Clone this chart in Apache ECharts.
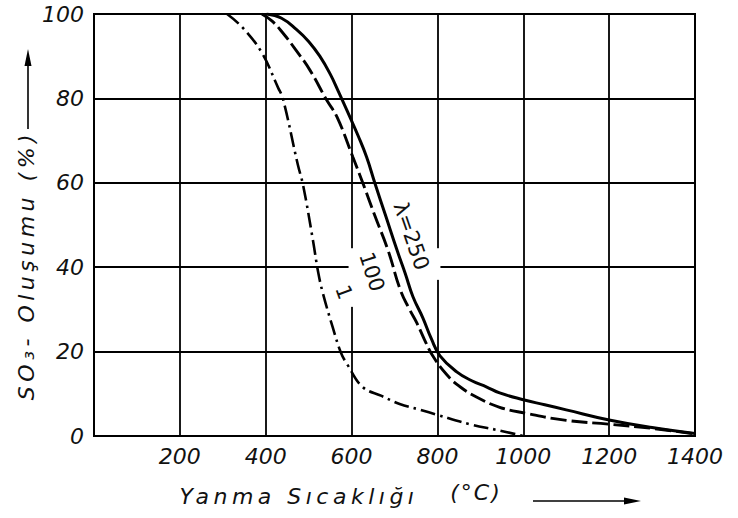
<!DOCTYPE html>
<html>
<head>
<meta charset="utf-8">
<script src="https://cdn.jsdelivr.net/npm/echarts@6/dist/echarts.min.js"></script>
<style>
html,body{margin:0;padding:0;background:#fff}
#c{width:738px;height:518px}
</style>
</head>
<body>
<div id="c"></div>
<script>
// ---- data ----
const xTicks = [0, 200, 400, 600, 800, 1000, 1200, 1400];
const yTicks = [0, 20, 40, 60, 80, 100];

// lambda = 1 (dash-dot)
const lambda1 = [[310,100],[347,96.7],[391,90.8],[429,82.5],[440,80],[475,64.2],[487,59.5],[510,46.4],[522,38.9],[533,33.9],[556,25.8],[575,19.8],[591,16.8],[626,11.6],[670,9.5],[712,7.6],[760,6.2],[800,5],[875,2.8],[940,1.4],[1000,0]];
// lambda = 100 (dashed)
const lambda100 = [[391,100],[415,98.3],[440,95.5],[470,91.5],[503,86.7],[542,79.6],[566,75.6],[603,66.1],[626,60],[655,52],[685,44],[714,34.5],[735,30],[752,26.8],[770,22.8],[789,19],[822,14.5],[855,11.5],[892,9.2],[945,6.8],[1005,5.4],[1100,3.7],[1200,2.8],[1300,1.8],[1400,0.5]];
// lambda = 250 (solid)
const lambda250 = [[402,100],[437,99],[472,96.3],[500,93.5],[526,90],[550,85.8],[570,81.5],[596,75.6],[615,71.2],[635,66.1],[654,60],[680,52],[706,44],[725,38.5],[743,33],[766,28],[786,23],[806,19],[845,15.2],[880,13.1],[915,11.6],[945,10.2],[1000,8.6],[1050,7.4],[1100,6.2],[1200,3.8],[1300,2.0],[1400,0.6]];

const curveLabels = ['1', '100', 'λ=250'];
const curveLabelAnchors = [[582, 34.1], [647, 38.9], [740, 47.4]];
const yTitle = 'SO₃- Oluşumu (%)';
const xTitle = 'Yanma Sıcaklığı';
const xUnit = '(°C)';

// ---- chart ----
const FONT = 'DejaVu Sans';
const INK = '#111';
const chart = echarts.init(document.getElementById('c'), null, {renderer: 'svg'});

const option = {
  animation: false,
  grid: {left: 94, right: 43, top: 14, bottom: 82, show: true, borderColor: '#000', borderWidth: 2, backgroundColor: 'transparent'},
  xAxis: {
    type: 'value', min: xTicks[0], max: xTicks[xTicks.length - 1], interval: 200,
    axisLine: {show: false}, axisTick: {show: false},
    splitLine: {show: true, lineStyle: {color: '#000', width: 1.8}},
    axisLabel: {fontFamily: FONT, fontStyle: 'italic', fontSize: 22, color: INK, margin: 9,
      formatter: v => (v === 0 ? '' : String(v))}
  },
  yAxis: {
    type: 'value', min: yTicks[0], max: yTicks[yTicks.length - 1], interval: 20,
    axisLine: {show: false}, axisTick: {show: false},
    splitLine: {show: true, lineStyle: {color: '#000', width: 1.8}},
    axisLabel: {fontFamily: FONT, fontStyle: 'italic', fontSize: 22, color: INK, margin: 10}
  },
  series: [
    {name: curveLabels[0], type: 'line', data: lambda1, smooth: 0.4, symbol: 'none', z: 3,
      lineStyle: {color: '#000', width: 2.6, type: [15, 5, 2.5, 5]}},
    {name: curveLabels[1], type: 'line', data: lambda100, smooth: 0.45, symbol: 'none', z: 3,
      lineStyle: {color: '#000', width: 2.9, type: [16, 5]}},
    {name: curveLabels[2], type: 'line', data: lambda250, smooth: 0.45, symbol: 'none', z: 3,
      lineStyle: {color: '#000', width: 3}}
  ]
};
chart.setOption(option);

// ---- annotations ----
const P = (x, y) => chart.convertToPixel({gridIndex: 0}, [x, y]);
const g = [];

// knock-outs of the grid behind the curve labels
function knockV(xv, y0, y1) {
  const a = P(xv, y1), b = P(xv, y0);
  g.push({type: 'rect', z: 1, silent: true, shape: {x: a[0] - 3, y: a[1], width: 6, height: b[1] - a[1]}, style: {fill: '#fff'}});
}
function knockH(yv, x0, x1) {
  const a = P(x0, yv), b = P(x1, yv);
  g.push({type: 'rect', z: 1, silent: true, shape: {x: a[0], y: a[1] - 3, width: b[0] - a[0], height: 6}, style: {fill: '#fff'}});
}
knockV(600, 30.6, 44.5);
knockV(800, 37, 44.5);
knockH(40, 596, 806);

// curve labels
const rots = [-70, -72, -71];
curveLabels.forEach((t, i) => {
  const p = P(curveLabelAnchors[i][0], curveLabelAnchors[i][1]);
  g.push({type: 'text', z: 5, x: p[0], y: p[1], rotation: rots[i] * Math.PI / 180,
    style: {text: t, fontFamily: FONT, fontSize: 21, fill: INK, align: 'center', verticalAlign: 'middle'}});
});

// axis titles
g.push({type: 'text', z: 5, x: 26, y: 265, rotation: Math.PI / 2,
  style: {text: yTitle, fontFamily: FONT, fontStyle: 'italic', fontSize: 22, fill: INK, align: 'center', verticalAlign: 'middle'}});
g.push({type: 'text', z: 5, x: 299, y: 496,
  style: {text: xTitle, fontFamily: FONT, fontStyle: 'italic', fontSize: 22, fill: INK, align: 'center', verticalAlign: 'middle'}});
g.push({type: 'text', z: 5, x: 476, y: 492,
  style: {text: xUnit, fontFamily: FONT, fontStyle: 'italic', fontSize: 22, fill: INK, align: 'center', verticalAlign: 'middle'}});

// arrows
g.push({type: 'line', z: 5, shape: {x1: 533, y1: 501, x2: 628, y2: 501}, style: {stroke: '#000', lineWidth: 1.6}});
g.push({type: 'polygon', z: 5, shape: {points: [[624, 497.5], [641, 501], [624, 504.5]]}, style: {fill: '#000'}});
g.push({type: 'line', z: 5, shape: {x1: 28, y1: 129, x2: 28, y2: 62}, style: {stroke: '#000', lineWidth: 1.6}});
g.push({type: 'polygon', z: 5, shape: {points: [[24.5, 66], [28, 49], [31.5, 66]]}, style: {fill: '#000'}});

chart.setOption({graphic: g});

// wide lettering of the original titles
function spaceTitles() {
  document.querySelectorAll('#c svg text').forEach(t => {
    const s = t.textContent;
    if (s === yTitle || s === xTitle) t.setAttribute('letter-spacing', '4.5');
    else if (s === xUnit) t.setAttribute('letter-spacing', '2');
  });
}
spaceTitles();
chart.on('finished', spaceTitles);
</script>
</body>
</html>
